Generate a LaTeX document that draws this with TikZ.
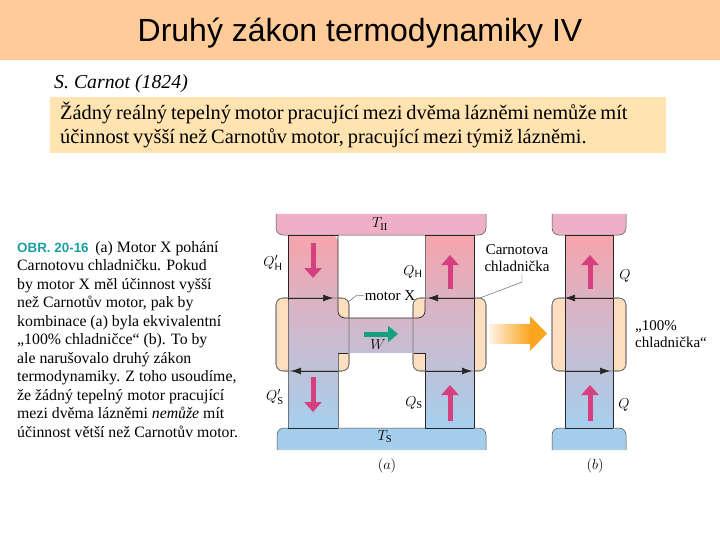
\documentclass[tikz,border=0pt]{standalone}
\usepackage{fontspec}
\setmainfont{Liberation Serif}
\newfontfamily\headfont{Liberation Sans}
\usetikzlibrary{arrows.meta,positioning}
\definecolor{headbar}{HTML}{FFCC99}
\definecolor{notebox}{HTML}{FFE3B0}
\definecolor{bathhot}{HTML}{EEB0C6}
\definecolor{bathcold}{HTML}{A5CDEC}
\definecolor{flowhot}{HTML}{F6A4AC}
\definecolor{flowcold}{HTML}{A6CFEE}
\definecolor{peach}{HTML}{FDDFC0}
\definecolor{heatpink}{HTML}{D63F80}
\definecolor{workgreen}{HTML}{17A080}
\definecolor{tealhead}{HTML}{1AA0A0}
\definecolor{bigorange}{HTML}{F9A61F}
\begin{document}
\begin{tikzpicture}[x=1pt,y=-1pt,
  hotbath/.style={draw=black!70,line width=0.5pt,fill=bathhot,rounded corners=7pt},
  coldbath/.style={draw=black!70,line width=0.5pt,fill=bathcold,rounded corners=7pt},
  engine/.style={draw=black!65,line width=0.6pt,fill=peach,rounded corners=7pt},
  flow/.style={top color=flowhot,bottom color=flowcold},
  edge/.style={draw=black!85,line width=0.7pt},
  faint/.style={draw=black!55,line width=0.6pt},
  heat/.style={draw=heatpink,line width=5pt,-{Triangle[width=17pt,length=10pt]}},
  work/.style={draw=workgreen,line width=5pt,-{Triangle[width=16pt,length=10pt]}},
  cycle/.style={draw=black!85,line width=0.6pt,-{Latex[length=10pt,width=7pt]}},
  lead/.style={draw=black!70,line width=0.4pt},
  lab/.style={font=\fontsize{15}{16.5}\selectfont,inner sep=0pt},
  sym/.style={font=\fontsize{15}{17}\selectfont,inner sep=0pt}]
\useasboundingbox (0,0) rectangle (720,540);
% header
\fill[headbar] (0,0) rectangle (720,60);
\node[font=\headfont\fontsize{32}{36}\selectfont] (title) at (360,33) {Druhý zákon termodynamiky IV};
\node[anchor=west,inner sep=0pt,font=\fontsize{19.8}{22}\selectfont\itshape] (author) at (54,84) {S. Carnot (1824)};
\node[anchor=north west,fill=notebox,minimum width=616pt,minimum height=56pt,text width=596pt,inner xsep=10pt,inner ysep=4pt,align=left,font=\fontsize{20.4}{24}\selectfont] (law) at (50,97) {\spaceskip=0.19em\relax Žádný reálný tepelný motor pracující mezi dvěma lázněmi nemůže mít\\účinnost vyšší než Carnotův motor, pracující mezi týmiž lázněmi.};
% caption
\node[anchor=north west,inner sep=0pt,align=left,font=\fontsize{15.8}{18.5}\selectfont] (caption) at (17,241) {{\headfont\bfseries\fontsize{13.4}{18.5}\selectfont\color{tealhead}OBR. 20-16} \,(a) Motor X pohání\\Carnotovu chladničku. Pokud\\by motor X měl účinnost vyšší\\než Carnotův motor, pak by\\kombinace (a) byla ekvivalentní\\„100\% chladničce“ (b). To by\\ale narušovalo druhý zákon\\termodynamiky. Z toho usoudíme,\\že žádný tepelný motor pracující\\mezi dvěma lázněmi \textit{nemůže} mít\\účinnost větší než Carnotův motor.};
% (a)
\path[hotbath] (276,214) -- (276,235) -- (486,235) -- (486,214);
\path[coldbath] (277,450) -- (277,428) -- (486,428) -- (486,450);
\path[engine] (276,298) rectangle (349,371);
\path[engine] (413,298) rectangle (486,371);
\path[flow] (288,235) -- (288,428) -- (338,428) -- (338,353) -- (425,353) -- (425,428) -- (474,428) -- (474,235) -- (425,235) [rounded corners=7pt] -- (425,318) -- (338,318) -- (338,235) [sharp corners] -- cycle;
\draw[faint] (288,300) -- (288,428) (338,428) -- (338,353) (425,235) -- (425,300);
\draw[edge] (288,235) -- (288,300) (474,235) -- (474,428);
\draw[edge] (338,235) [rounded corners=7pt] -- (338,318) -- (425,318) -- (425,300);
\draw[edge] (338,353) -- (348,353) (414,353) -- (425,353) -- (425,428);
\draw[edge] (288,235) -- (338,235) (425,235) -- (474,235) (288,428) -- (338,428) (425,428) -- (474,428);
\draw[faint,rounded corners=7pt] (276,298) rectangle (349,371);
\draw[faint,rounded corners=7pt] (413,298) rectangle (486,371);
\coordinate (xTop) at (333,298); \coordinate (xBot) at (291,371);
\coordinate (cTop) at (428,298); \coordinate (cBot) at (472,371);
\draw[cycle] (288,298) -- (xTop);
\draw[cycle] (338,371) -- (xBot);
\draw[cycle] (474,298) -- (cTop);
\draw[cycle] (425,371) -- (cBot);
\draw[heat] (313,243) -- (313,278);
\draw[heat] (313,377) -- (313,412);
\draw[heat] (450,289) -- (450,255);
\draw[heat] (450,421) -- (450,385);
\draw[work] (364,334) -- (398,334);
\node[sym] (TH) at (380,224) {$T_{\mathrm{II}}$};
\node[sym] (TS) at (385,437) {$T_{\mathrm{S}}$};
\node[sym] (QHp) at (273,263) {$Q'_{\mathsf{H}}$};
\node[sym] (QH) at (413,272) {$Q_{\mathsf{H}}$};
\node[sym] (QSp) at (275,397) {$Q'_{\mathrm{S}}$};
\node[sym] (QS) at (414,403) {$Q_{\mathrm{S}}$};
\node[sym] (W) at (378,345) {$W$};
\node[lab] (motorX) at (390,296) {motor X};
\node[lab] (labA) at (387,466) {$(a)$};
\draw[lead] (motorX.west) -- (357,295) -- (348,302);
\node[lab,align=center] (carnot) at (517,258) {Carnotova\\chladnička};
\coordinate (carnotEnd) at (480,298);
\draw[lead] (522,274) -- (522,282) -- (carnotEnd);
% arrow between (a) and (b)
\shade[left color=peach!40,right color=bigorange] (489,324) -- (530,324) -- (530,343) -- (489,343) -- cycle;
\fill[bigorange] (530,316) -- (547,333.5) -- (530,351) -- cycle;
% (b)
\path[hotbath] (552,214) -- (552,235) -- (626,235) -- (626,214);
\path[coldbath] (552,450) -- (552,428) -- (626,428) -- (626,450);
\path[engine] (552,298) rectangle (626,371);
\path[flow] (565,235) rectangle (613,428);
\draw[edge] (565,235) -- (565,428) (613,235) -- (613,428);
\draw[edge] (565,235) -- (613,235) (565,428) -- (613,428);
\draw[faint,rounded corners=7pt] (552,298) rectangle (626,371);
\draw[cycle] (613,298) -- (565,298);
\draw[cycle] (565,371) -- (610,371);
\draw[heat] (590,289) -- (590,255);
\draw[heat] (590,421) -- (590,385);
\node[sym] (Qtop) at (625,276) {$Q$};
\node[sym] (Qbot) at (624,405) {$Q$};
\node[lab,anchor=west,align=left] (fridge) at (635,334) {„100\%\\chladnička“};
\node[lab] (labB) at (595,466) {$(b)$};
\end{tikzpicture}
\end{document}
